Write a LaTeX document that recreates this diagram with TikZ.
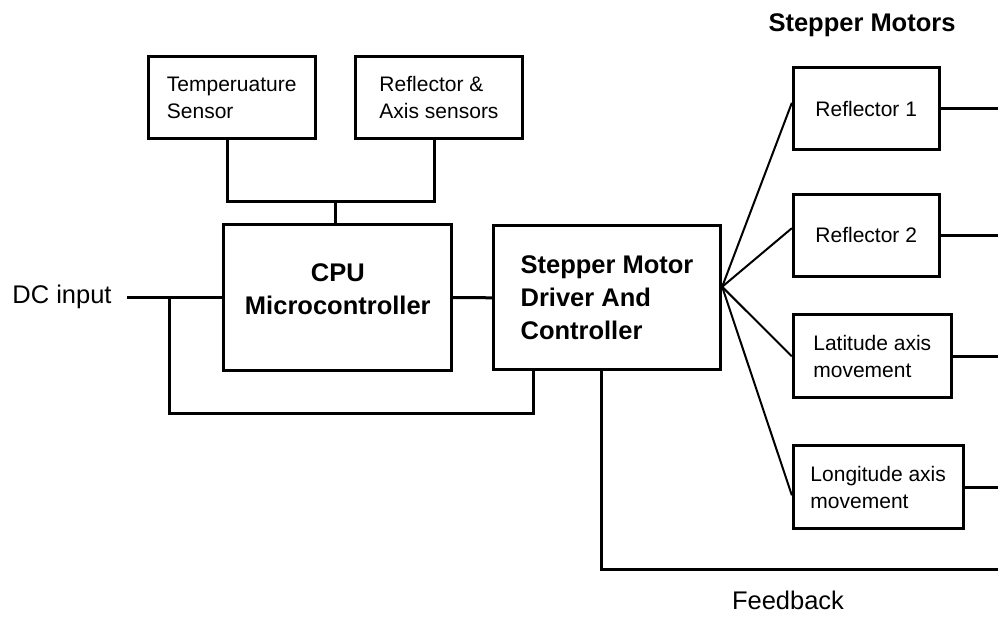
\documentclass[tikz,border=0pt]{standalone}
\usepackage{fontspec}
\setmainfont{Liberation Sans}

\begin{document}
\begin{tikzpicture}[x=1pt,y=-1pt,
  box/.style={draw,line width=3pt,inner sep=0pt},
  wire/.style={line width=3pt},
  fanline/.style={line width=2pt},
  small/.style={font=\fontsize{21}{27}\selectfont},
  big/.style={font=\fontsize{25.5}{33}\selectfont},
  bigbf/.style={font=\fontsize{25.5}{33}\selectfont\bfseries}]
\useasboundingbox (0,0) rectangle (998,617);
%\draw[help lines] (0,0) grid[step=50] (998,617);
% sensors
\node[box,small,align=left,minimum width=166.7pt,minimum height=81.7pt] (temp) at (231.7,97.5) {Temperuature\\Sensor};
\node[box,small,align=left,minimum width=166.7pt,minimum height=81.7pt] (refl) at (439,97.5) {Reflector \&\\Axis sensors};
% main blocks
\node[box,minimum width=227.7pt,minimum height=145pt] (cpu) at (337.8,297.5) {};
\node[bigbf,align=center] (cputxt) at (337.8,289) {CPU\\Microcontroller};
\node[box,bigbf,align=left,minimum width=227.3pt,minimum height=144.3pt] (drv) at (607,297.8) {Stepper Motor\\Driver And\\Controller};
% motors
\node[bigbf] (hdr) at (862,25) {Stepper Motors};
\node[box,small,minimum width=145.7pt,minimum height=82.3pt] (ref1) at (866.2,108.8) {Reflector 1};
\node[box,small,minimum width=145.7pt,minimum height=82.3pt] (ref2) at (866.2,235.2) {Reflector 2};
\node[box,small,align=left,minimum width=158pt,minimum height=82.7pt] (lat) at (872.3,356.3) {Latitude axis\\movement};
\node[box,small,align=left,minimum width=169.7pt,minimum height=82.7pt] (lon) at (878.2,487.3) {Longitude axis\\movement};
% labels
\node[big] (dcin) at (62,297) {DC input};
\node[big] (fbtxt) at (788,600) {Feedback};
% helper points
\coordinate (edge) at (998,0);
\coordinate (bus) at (335.3,201.7);
\coordinate (dcend) at (127,297.5);
\coordinate (jn) at (169,297.5);
\coordinate (loop) at (533.3,413.3);
\coordinate (fb) at (601.7,569.3);
\coordinate (fan) at ([yshift=11pt]drv.east);
% wiring
\draw[wire] ([xshift=-4pt]temp.south) |- (bus) -| ([xshift=-4.7pt]refl.south);
\draw[wire] (bus) -- (bus |- cpu.north);
\draw[wire] (dcend) -- (cpu.west);
\draw[wire] (cpu.east) -- (drv.west);
\draw[wire] (jn) |- (loop) -- (loop |- drv.south);
\draw[wire] (fb |- drv.south) -- (fb) -- (fb -| edge);
\draw[fanline] (fan) -- ([yshift=6pt]ref1.west);
\draw[fanline] (fan) -- ([yshift=7pt]ref2.west);
\draw[fanline] (fan) -- (lat.west);
\draw[fanline] (fan) -- ([yshift=-8pt]lon.west);
\foreach \m in {ref1,ref2,lat,lon}
  \draw[wire] (\m.east) -- (\m.east -| edge);
\end{tikzpicture}
\end{document}
